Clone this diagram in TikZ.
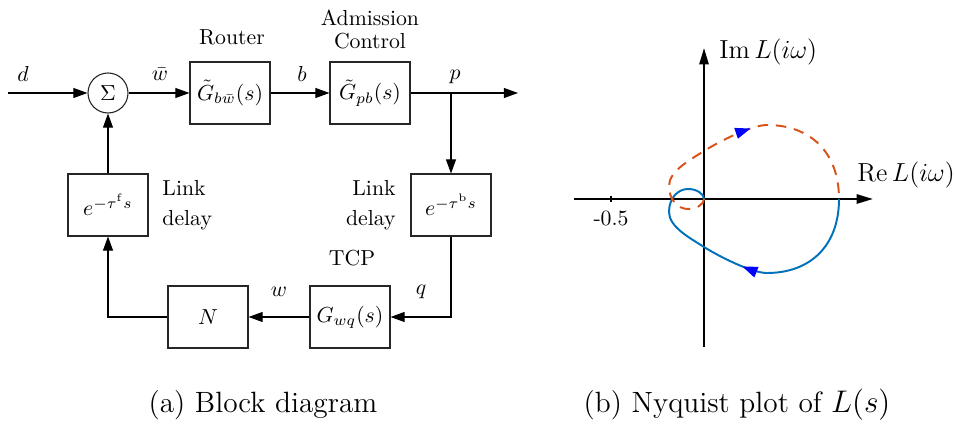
\documentclass[tikz,border=0pt]{standalone}
\usetikzlibrary{arrows.meta,decorations.markings}
\definecolor{mblue}{RGB}{0,114,189}
\definecolor{morange}{RGB}{217,83,25}
\begin{document}
\begin{tikzpicture}[x=0.46pt,y=-0.46pt,
  blk/.style={draw=black!85, line width=0.5pt, minimum width=36.8pt, minimum height=28.5pt, inner sep=0pt},
  sumnode/.style={draw=black!85, line width=0.5pt, circle, minimum size=18.4pt, inner sep=0pt},
  conn/.style={line width=0.5pt, -{Triangle[length=6.5pt,width=4.6pt]}},
  lbl/.style={inner sep=0pt},
  axisline/.style={line width=1pt, -{Triangle[length=7.5pt,width=4.2pt]}},
  curvetip/.style={blue},
  captxt/.style={font=\fontsize{13.5}{16}\selectfont, inner sep=0pt}
]
\useasboundingbox (0,0) rectangle (956,424);
% ---------------- block diagram ----------------
\coordinate (in) at (8,93);
\node[sumnode] (sum) at (108,93) {$\Sigma$};
\node[blk] (router) at (230,93) {$\tilde G_{b\bar w}(s)$};
\node[blk] (adm) at (370,93) {$\tilde G_{pb}(s)$};
\coordinate (br) at (451,93);
\coordinate (out) at (518,93);
\node[blk] (rdel) at (451,205) {$e^{-\tau^{\mathrm{b}}s}$};
\node[blk] (ldel) at (108,205) {$e^{-\tau^{\mathrm{f}}s}$};
\node[blk] (tcp) at (350,317) {$G_{wq}(s)$};
\node[blk] (N) at (208,317) {$N$};

\draw[conn] (in) -- (sum);
\draw[conn] (sum) -- (router);
\draw[conn] (router) -- (adm);
\draw[conn] (adm) -- (out);
\draw[conn] (br) -- (rdel);
\draw[conn] (rdel.south) |- (tcp.east);
\draw[conn] (tcp) -- (N);
\draw[conn] (N.west) -| (ldel.south);
\draw[conn] (ldel) -- (sum);

\node[lbl] at (23,74) {$d$};
\node[lbl] at (160,74) {$\bar w$};
\node[lbl] at (302,74) {$b$};
\node[lbl] at (455,77) {$p$};
\node[lbl] at (232,37) {Router};
\node[lbl, align=center, font=\fontsize{10}{10.6}\selectfont] at (370,29) {Admission\\Control};
\node[lbl, anchor=west, align=left, font=\fontsize{10}{14}\selectfont] at (162,205) {Link\\delay};
\node[lbl, anchor=east, align=right, font=\fontsize{10}{14}\selectfont] at (396,205) {Link\\delay};
\node[lbl] at (352,258) {TCP};
\node[lbl] at (279,292) {$w$};
\node[lbl] at (421,292) {$q$};

\node[captxt] at (263,405) {(a) Block diagram};

% ---------------- Nyquist plot ----------------
\coordinate (O) at (704,199);
\coordinate (xl) at (574,199);
\coordinate (xr) at (873,199);
\coordinate (yb) at (704,347);
\coordinate (yt) at (704,48);
\draw[axisline] (xl) -- (xr);
\draw[axisline] (yb) -- (yt);
\coordinate (tk) at (611,199);
\draw[line width=0.8pt] ([yshift=1.6pt]tk) -- ([yshift=-1.6pt]tk);
\node[lbl] at (611,219) {-0.5};
\node[lbl, anchor=west, font=\fontsize{12.5}{14}\selectfont] at (719,52) {$\mathrm{Im}\,L(i\omega)$};
\node[lbl, anchor=west, font=\fontsize{12.5}{14}\selectfont] at (857,175) {$\mathrm{Re}\,L(i\omega)$};

\draw[mblue, line width=0.9pt,
  postaction={decorate},
  decoration={markings, mark=at position 0.49 with {\arrow[curvetip]{Triangle[length=7pt,width=5pt]}}}]
  (839,199) .. controls (839,246) and (810,273) .. (767,273)
  .. controls (752,273) and (720,257) .. (704,247)
  .. controls (690,238) and (669,227) .. (669,212)
  .. controls (669,198) and (678,189) .. (688,189)
  .. controls (697,189) and (704,194) .. (O);

\draw[morange, line width=0.9pt, dash pattern=on 4.8pt off 3.6pt,
  postaction={decorate},
  decoration={markings, mark=at position 0.54 with {\arrow[curvetip]{Triangle[length=7pt,width=5pt]}}}]
  (O) .. controls (704,204) and (697,209) .. (688,209)
  .. controls (678,209) and (669,200) .. (669,186)
  .. controls (669,171) and (690,160) .. (704,151)
  .. controls (720,141) and (752,125) .. (767,125)
  .. controls (810,125) and (839,152) .. (839,199);

\node[captxt] at (737,405) {(b) Nyquist plot of $L(s)$};
\end{tikzpicture}
\end{document}
